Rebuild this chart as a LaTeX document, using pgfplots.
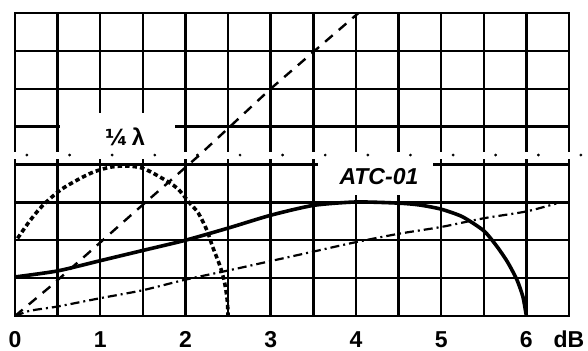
\documentclass[border=0pt]{standalone}
\usepackage{fontspec}
\setmainfont{Liberation Sans}
\newfontfamily\dejavu{DejaVu Sans}
\usepackage{pgfplots}
\pgfplotsset{compat=1.18}
\begin{document}
\begin{tikzpicture}
\begin{axis}[
  scale only axis, width=554pt, height=303pt,
  xmin=0, xmax=6.5, ymin=0, ymax=8,
  clip=false,
  xtick={0,0.5,1,1.5,2,2.5,3,3.5,4,4.5,5,5.5,6,6.5},
  xticklabels={0,{},1,{},2,{},3,{},4,{},5,{},6,dB},
  ytick={0,1,2,3,4,5,6,7,8},
  yticklabels={},
  major tick length=0pt,
  grid=major,
  major grid style={black, line width=2.4pt},
  axis line style={black, line width=2.6pt},
  xticklabel style={anchor=base, yshift=-31.5pt, inner sep=0pt, font=\fontsize{23}{23}\selectfont\bfseries},
]
% bounding frame (invisible)
\path (axis cs:-0.176,-0.923) rectangle (axis cs:6.723,8.343);
% white band with dots
\draw[white, line width=7pt] (axis cs:-0.06,4.25) -- (axis cs:6.56,4.25);
\addplot[only marks, mark=*, mark size=1.2pt, black] coordinates {
(0.14,4.25) (0.64,4.25) (1.14,4.25) (1.64,4.25) (2.14,4.25) (2.64,4.25) (3.14,4.25)
(3.64,4.25) (4.14,4.25) (4.64,4.25) (5.14,4.25) (5.64,4.25) (6.14,4.25) (6.64,4.25)};
% label boxes
\fill[white] (axis cs:0.53,4.25) rectangle (axis cs:1.88,5.36);
\fill[white] (axis cs:3.56,3.19) rectangle (axis cs:4.91,4.25);
% dashed straight line
\addplot[black, line width=2.4pt, dash pattern=on 10pt off 8pt] coordinates {
(0,0) (0.41,0.77) (0.86,1.66) (1.39,2.72) (2.14,4.2) (3,6) (4.03,8)};
% dash-dot line
\addplot[black, line width=2.2pt, dash pattern=on 9pt off 4pt on 2pt off 4pt, smooth, tension=0.4] coordinates {
(0,0) (0.18,0.14) (0.5,0.25) (1,0.47) (1.5,0.68) (2,0.96) (2.5,1.2) (3,1.45) (3.5,1.7) (4,1.95)
(4.5,2.17) (5,2.35) (5.5,2.58) (6,2.76) (6.35,2.97)};
% quarter lambda dotted
\addplot[black, line width=3.6pt, dash pattern=on 4.5pt off 3pt, smooth, tension=0.5] coordinates {
(0.03,2.05) (0.18,2.53) (0.33,2.93) (0.53,3.32) (0.73,3.59) (0.92,3.8) (1.12,3.93) (1.31,3.96)
(1.5,3.9) (1.7,3.67) (1.9,3.38) (2.05,2.98) (2.15,2.72) (2.25,2.27) (2.32,1.82) (2.41,1.29)
(2.46,0.87) (2.49,0.42) (2.5,0)};
% ATC-01 solid
\addplot[black, line width=3.6pt, smooth, tension=0.4] coordinates {
(0,1.03) (0.5,1.19) (1,1.46) (1.5,1.73) (2,2.0) (2.5,2.32) (3,2.66) (3.5,2.92)
(4,3.01) (4.5,2.98) (4.75,2.93) (5,2.82) (5.25,2.62) (5.5,2.25) (5.65,1.85)
(5.78,1.42) (5.89,0.95) (5.96,0.5) (6.0,0)};
\node[font=\fontsize{23.5}{23.5}\selectfont\bfseries, inner sep=0pt] at (axis cs:1.29,4.74)
  {{\dejavu\bfseries\fontsize{22}{22}\selectfont ¼}\kern4pt λ};
\node[font=\fontsize{23}{23}\selectfont\bfseries\itshape, inner sep=0pt] at (axis cs:4.27,3.69) {ATC-01};
\end{axis}
\end{tikzpicture}
\end{document}
